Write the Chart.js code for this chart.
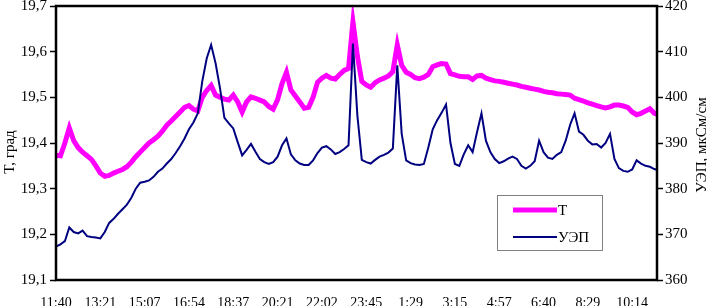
<!DOCTYPE html>
<html>
<head>
<meta charset="utf-8">
<script src="https://cdn.jsdelivr.net/npm/chart.js@4.4.0/dist/chart.umd.min.js"></script>
<style>
	html, body { margin: 0; padding: 0; background: #fff; }
	#wrap { width: 707px; height: 306px; }
</style>
</head>
<body>
<div id="wrap"><canvas id="myChart"></canvas></div>
<script>
// Подписи времени на оси X (через каждые 10 отсчётов)
const timeLabels = ['11:40', '13:21', '15:07', '16:54', '18:37', '20:21', '22:02',
	'23:45', '1:29', '3:15', '4:57', '6:40', '8:29', '10:14'];
const step = 10;

// Температура, град
const tempValues = [
	19.373, 19.372, 19.40, 19.433, 19.405, 19.39, 19.38, 19.372, 19.364, 19.35,
	19.334, 19.327, 19.329, 19.334, 19.338, 19.342, 19.348, 19.358, 19.37, 19.38,
	19.39, 19.40, 19.407, 19.415, 19.426, 19.439, 19.448, 19.458, 19.468, 19.478,
	19.482, 19.474, 19.47, 19.50, 19.515, 19.526, 19.505, 19.50, 19.496, 19.494,
	19.505, 19.49, 19.468, 19.49, 19.501, 19.498, 19.494, 19.49, 19.48, 19.474,
	19.495, 19.53, 19.555, 19.516, 19.503, 19.49, 19.476, 19.478, 19.50, 19.533,
	19.542, 19.548, 19.542, 19.54, 19.55, 19.559, 19.563, 19.665, 19.59, 19.535,
	19.527, 19.522, 19.532, 19.538, 19.542, 19.547, 19.556, 19.615, 19.57, 19.555,
	19.55, 19.543, 19.541, 19.544, 19.55, 19.567, 19.571, 19.574, 19.573, 19.552,
	19.549, 19.546, 19.545, 19.545, 19.539, 19.547, 19.548, 19.542, 19.539, 19.536,
	19.535, 19.533, 19.531, 19.529, 19.527, 19.524, 19.522, 19.52, 19.518, 19.516,
	19.513, 19.511, 19.51, 19.508, 19.507, 19.506, 19.505, 19.498, 19.495, 19.492,
	19.488, 19.485, 19.482, 19.479, 19.477, 19.479, 19.483, 19.483, 19.481, 19.478,
	19.468, 19.462, 19.465, 19.47, 19.475, 19.465, 19.462
];

// УЭП, мкСм/см
const condValues = [
	367.3, 367.8, 368.5, 371.5, 370.5, 370.2, 370.8, 369.6, 369.4, 369.3,
	369.1, 370.5, 372.5, 373.4, 374.5, 375.5, 376.5, 378.0, 380.0, 381.3,
	381.5, 381.8, 382.6, 383.7, 384.4, 385.5, 386.5, 387.8, 389.3, 391.0,
	393.0, 394.5, 396.5, 403.5, 408.5, 411.5, 407.5, 402.0, 395.5, 394.3,
	393.2, 390.2, 387.3, 388.5, 389.8, 388.1, 386.5, 385.8, 385.4, 385.8,
	387.0, 389.5, 391.0, 387.5, 386.2, 385.5, 385.2, 385.2, 386.2, 387.8,
	389.0, 389.3, 388.6, 387.6, 388.0, 388.7, 389.5, 411.8, 396.0, 386.3,
	385.8, 385.5, 386.3, 387.0, 387.4, 387.9, 388.8, 407.0, 392.0, 386.2,
	385.6, 385.3, 385.2, 385.4, 389.0, 393.0, 395.0, 396.6, 398.4, 390.0,
	385.4, 385.0, 387.5, 389.5, 388.0, 392.4, 396.5, 390.5, 388.0, 386.5,
	385.6, 386.0, 386.6, 387.0, 386.5, 385.0, 384.4, 385.0, 386.0, 390.5,
	388.0, 386.8, 386.5, 387.4, 388.0, 390.5, 394.0, 396.5, 392.5, 391.8,
	390.5, 389.7, 389.8, 389.0, 390.0, 392.0, 386.5, 384.5, 383.9, 383.7,
	384.2, 386.2, 385.5, 385.0, 384.8, 384.3, 384.0
];

const leftTitle = 'T, град';
const rightTitle = 'УЭП, мкСм/см';

const serif = '"Liberation Serif", "Times New Roman", serif';
Chart.defaults.font.family = serif;
Chart.defaults.color = '#000';

// рамка, легенда и подписи осей
const extras = {
	id: 'extras',
	afterDatasetsDraw(chart) {
		const ctx = chart.ctx;
		const a = chart.chartArea;
		ctx.save();
		ctx.strokeStyle = '#000';
		ctx.lineWidth = 2.5;
		ctx.strokeRect(a.left, a.top, a.right - a.left, a.bottom - a.top);

		// легенда
		const bx = a.right - 160, by = a.bottom - 85;
		ctx.fillStyle = '#fff';
		ctx.fillRect(bx, by, 105, 55);
		ctx.strokeStyle = '#808080';
		ctx.lineWidth = 1;
		ctx.strokeRect(bx + 0.5, by + 0.5, 105, 55);
		ctx.font = '15px ' + serif;
		ctx.textBaseline = 'middle';
		ctx.textAlign = 'left';
		chart.data.datasets.forEach((ds, k) => {
			const ly = by + 15 + k * 27;
			ctx.strokeStyle = ds.borderColor;
			ctx.lineWidth = ds.borderWidth;
			ctx.beginPath();
			ctx.moveTo(bx + 16, ly);
			ctx.lineTo(bx + 60, ly);
			ctx.stroke();
			ctx.fillStyle = '#000';
			ctx.fillText(ds.label, bx + 61, ly + 1);
		});

		// подписи осей
		ctx.textAlign = 'center';
		ctx.fillStyle = '#000';
		const mid = (a.top + a.bottom) / 2;
		ctx.translate(10, mid + 9);
		ctx.rotate(-Math.PI / 2);
		ctx.fillText(leftTitle, 0, 0);
		ctx.setTransform(1, 0, 0, 1, 0, 0);
		ctx.translate(a.right + 45, mid + 2);
		ctx.rotate(-Math.PI / 2);
		ctx.fillText(rightTitle, 0, 0);
		ctx.restore();
	}
};

const data = {
	datasets: [{
		label: 'T',
		data: tempValues.map((v, i) => ({ x: i, y: v })),
		borderColor: '#ff00ff',
		backgroundColor: '#ff00ff',
		borderWidth: 5,
		yAxisID: 'yT',
		order: 1
	}, {
		label: 'УЭП',
		data: condValues.map((v, i) => ({ x: i, y: v })),
		borderColor: '#000080',
		backgroundColor: '#000080',
		borderWidth: 2,
		yAxisID: 'yU',
		order: 0
	}]
};

const options = {
	responsive: true,
	maintainAspectRatio: false,
	animation: false,
	layout: {
		padding: { top: 6, left: 0, right: 0, bottom: 0 }
	},
	elements: {
		point: { radius: 0 },
		line: { tension: 0 }
	},
	plugins: {
		legend: { display: false },
		tooltip: { enabled: false }
	},
	scales: {
		x: {
			type: 'linear',
			min: 0,
			max: 135.6,
			grid: { display: false, drawTicks: false },
			border: { display: false },
			afterBuildTicks: (scale) => {
				scale.ticks = timeLabels.map((_, k) => ({ value: k * step }));
			},
			afterFit: (scale) => {
				scale.height = 26;
				scale.paddingLeft = 0;
				scale.paddingRight = 0;
			},
			ticks: {
				autoSkip: false,
				maxRotation: 0,
				padding: 15,
				font: { size: 14 },
				callback: (v) => timeLabels[Math.round(v / step)]
			}
		},
		yT: {
			position: 'left',
			min: 19.1,
			max: 19.7,
			grid: { drawOnChartArea: false, tickLength: 6, tickColor: '#000', tickWidth: 1.5 },
			border: { display: false },
			afterFit: (scale) => {
				scale.width = 56;
				scale.paddingTop = 0;
				scale.paddingBottom = 0;
			},
			ticks: {
				stepSize: 0.1,
				padding: 3,
				font: { size: 15 },
				callback: (v) => v.toFixed(1).replace('.', ',')
			}
		},
		yU: {
			position: 'right',
			min: 360,
			max: 420,
			grid: { drawOnChartArea: false, tickLength: 6, tickColor: '#000', tickWidth: 1.5 },
			border: { display: false },
			afterFit: (scale) => {
				scale.width = 50;
				scale.paddingTop = 0;
				scale.paddingBottom = 0;
			},
			ticks: {
				stepSize: 10,
				padding: 2,
				font: { size: 15 }
			}
		}
	}
};

new Chart(document.getElementById('myChart'), {
	type: 'line',
	data: data,
	options: options,
	plugins: [extras]
});
</script>
</body>
</html>
